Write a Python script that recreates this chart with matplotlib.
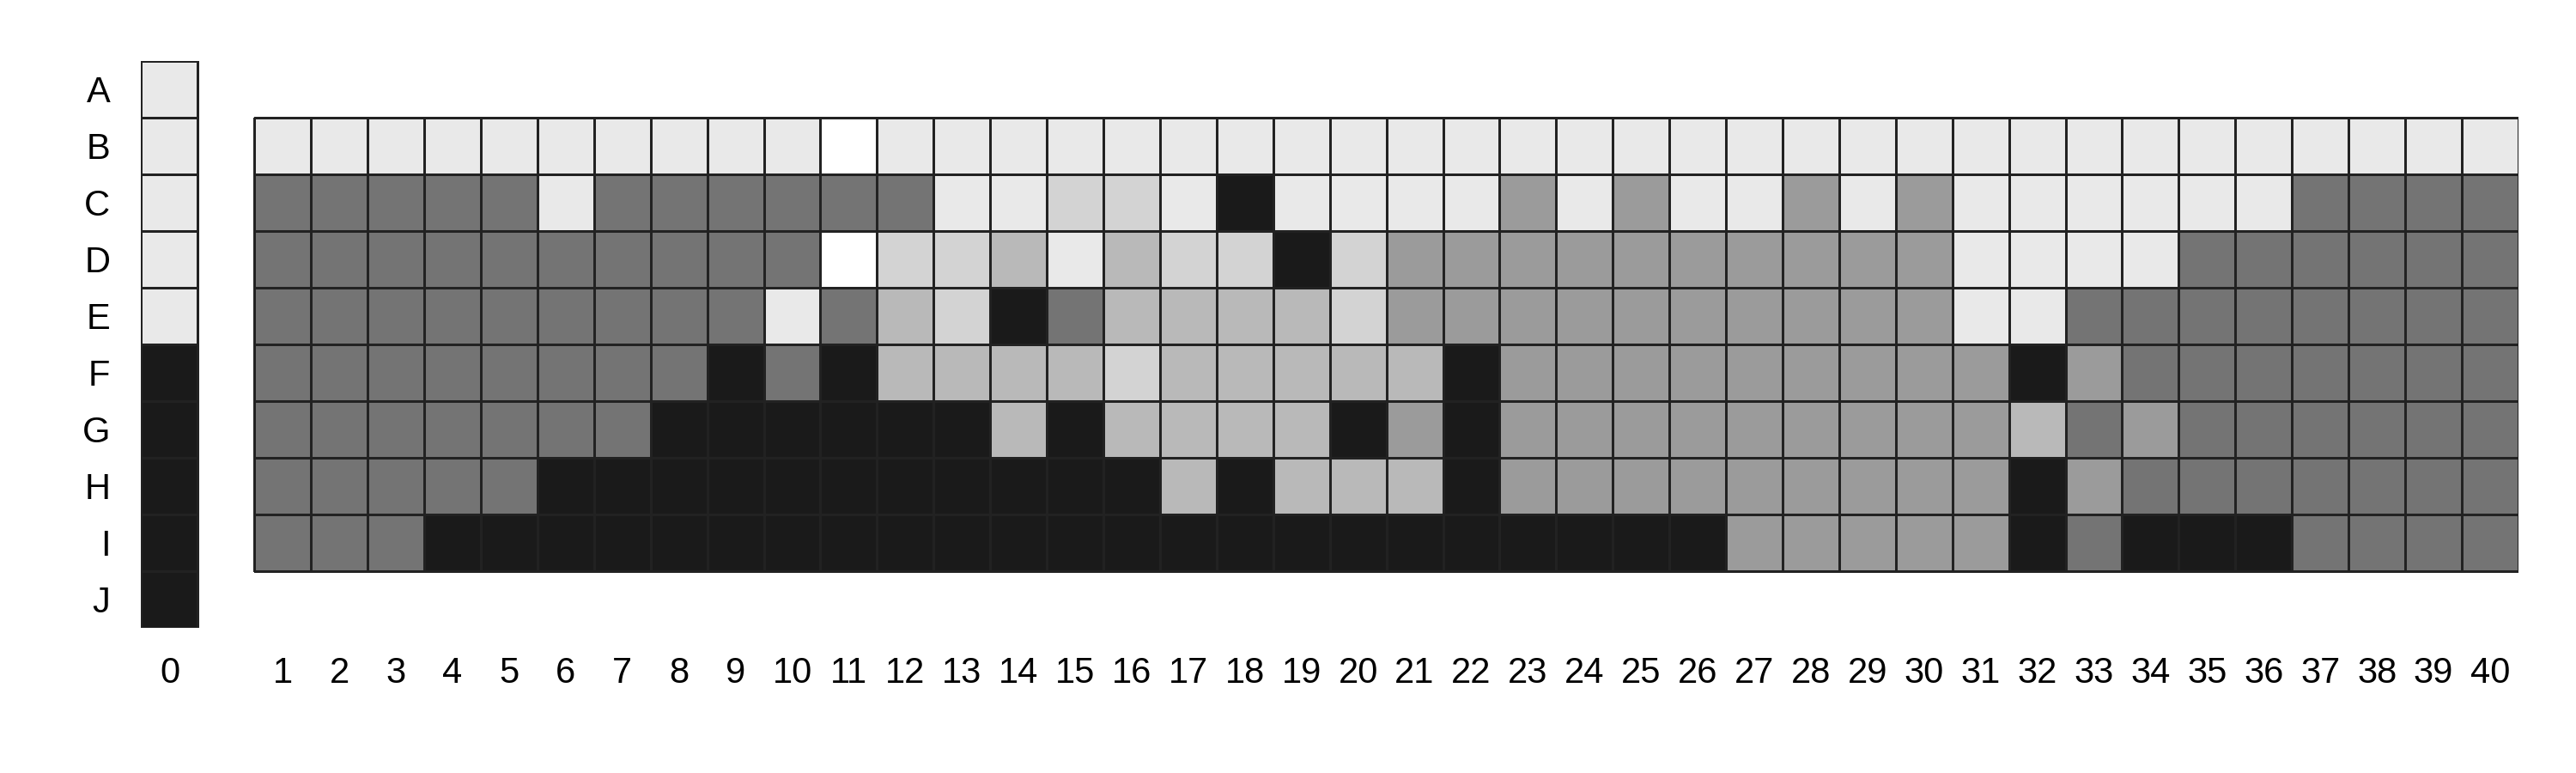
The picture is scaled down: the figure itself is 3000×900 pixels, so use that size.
import numpy as np
import matplotlib
matplotlib.use("Agg")
import matplotlib.pyplot as plt
from matplotlib.colors import ListedColormap

plt.rcParams['font.family'] = ['Liberation Sans Narrow', 'Liberation Sans', 'DejaVu Sans']

# grey levels, 0 = white ... 6 = near black
level_colors = ['#ffffff', '#e9e9e9', '#d3d3d3', '#b9b9b9', '#9b9b9b', '#747474', '#1a1a1a']

row_labels = ['A', 'B', 'C', 'D', 'E', 'F', 'G', 'H', 'I', 'J']
col_labels = [str(i) for i in range(41)]

# column 0 covers rows A..J
col0 = [1, 1, 1, 1, 1, 6, 6, 6, 6, 6]

# columns 1..40, rows B..I (one digit per column)
row_B = "1111111111" "0111111111" "1111111111" "1111111111"
row_C = "5555515555" "5511221611" "1141411414" "1111115555"
row_D = "5555555555" "0223132262" "4444444444" "1111555555"
row_E = "5555555551" "5326533332" "4444444444" "1155555555"
row_F = "5555555565" "6333323333" "3644444444" "4645555555"
row_G = "5555555666" "6663633336" "4644444444" "4354555555"
row_H = "5555566666" "6666663633" "3644444444" "4645555555"
row_I = "5556666666" "6666666666" "6666664444" "4656665555"
main_rows = [row_B, row_C, row_D, row_E, row_F, row_G, row_H, row_I]

col0_grid = np.array(col0, dtype=float).reshape(10, 1)
main_grid = np.array([[int(c) for c in s] for s in main_rows], dtype=float)

fig = plt.figure(figsize=(30, 9), dpi=100)
ax = fig.add_axes([0.05483, 0.188, 0.9228, 0.7333])

cmap = ListedColormap(level_colors)
mesh_kw = dict(cmap=cmap, vmin=-0.5, vmax=6.5, edgecolors='#222222', linewidth=1.0)
# column 0 sits in slot [0, 1], one empty slot, then columns 1..40 in [2, 42]
ax.pcolormesh([0, 1], np.arange(11), col0_grid, **mesh_kw)
ax.pcolormesh(np.arange(2, 43), np.arange(1, 10), main_grid, **mesh_kw)

ax.set_xlim(0, 42)
ax.set_ylim(10, 0)

xpos = [0.5] + [k + 1.5 for k in range(1, 41)]
ax.set_xticks(xpos)
ax.set_xticklabels(col_labels, fontsize=30)
ax.set_yticks(np.arange(10) + 0.5)
ax.set_yticklabels(row_labels, fontsize=30)
ax.tick_params(length=0, pad=26)
ax.tick_params(axis='x', pad=24)
for sp in ax.spines.values():
    sp.set_visible(False)

fig.savefig("out.png", dpi=100)
